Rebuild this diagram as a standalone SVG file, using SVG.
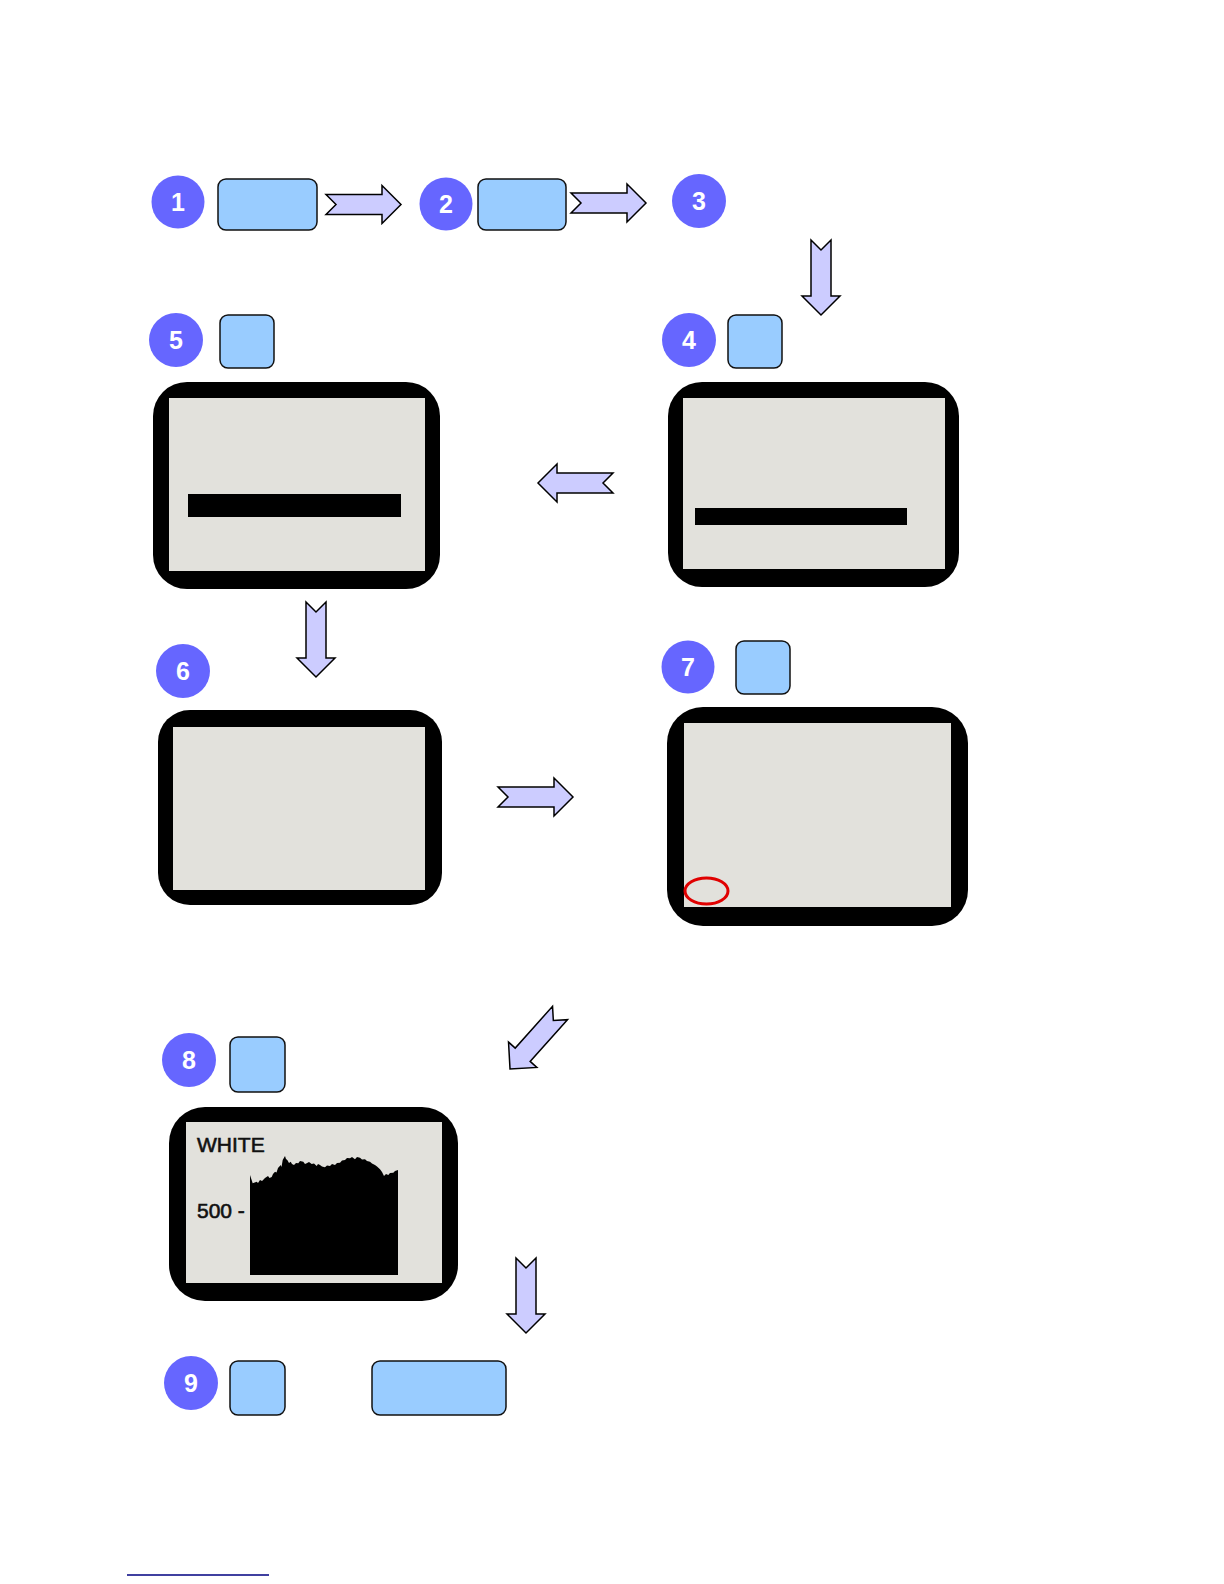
<svg xmlns="http://www.w3.org/2000/svg" width="1224" height="1584" viewBox="0 0 1224 1584">
<style>
.num{fill:#6666ff}
.numt{fill:#fff;font-family:"Liberation Sans",Arial,sans-serif;font-weight:bold;font-size:25px;text-anchor:middle}
.btn{fill:#99ccff;stroke:#111;stroke-width:1.5}
.frame{fill:#000}
.lcd{fill:#e2e1dc}
.bar{fill:#000}
.arrow{fill:#ccccff;stroke:#000;stroke-width:1.5;stroke-linejoin:miter}
.lbl{fill:#111;stroke:#111;stroke-width:0.6;font-family:"Liberation Sans",Arial,sans-serif;font-size:21px}
</style>
<defs>
<path id="arr" d="M0,-10 L56,-10 L56,-19 L75,0 L56,19 L56,10 L0,10 L10,0 Z"/>
</defs>
<rect width="1224" height="1584" fill="#fff"/>

<g id="step1">
<circle class="num" cx="178" cy="202" r="26.5"/>
<text class="numt" x="178" y="211">1</text>
<rect class="btn" x="218" y="179" width="99" height="51" rx="8"/>
</g>
<g id="step2">
<circle class="num" cx="446" cy="204" r="26.5"/>
<text class="numt" x="446" y="213">2</text>
<rect class="btn" x="478" y="179" width="88" height="51" rx="8"/>
</g>
<g id="step3">
<circle class="num" cx="699" cy="201" r="27"/>
<text class="numt" x="699" y="210">3</text>
</g>
<g id="step4">
<circle class="num" cx="689" cy="340" r="27"/>
<text class="numt" x="689" y="349">4</text>
<rect class="btn" x="728" y="315" width="54" height="53" rx="8"/>
<rect class="frame" x="668" y="382" width="291" height="205" rx="34"/>
<rect class="lcd" x="683" y="398" width="262" height="171"/>
<rect class="bar" x="695" y="508" width="212" height="17"/>
</g>
<g id="step5">
<circle class="num" cx="176" cy="340" r="27"/>
<text class="numt" x="176" y="349">5</text>
<rect class="btn" x="220" y="315" width="54" height="53" rx="8"/>
<rect class="frame" x="153" y="382" width="287" height="207" rx="34"/>
<rect class="lcd" x="169" y="398" width="256" height="173"/>
<rect class="bar" x="188" y="494" width="213" height="23"/>
</g>
<g id="step6">
<circle class="num" cx="183" cy="671" r="27"/>
<text class="numt" x="183" y="680">6</text>
<rect class="frame" x="158" y="710" width="284" height="195" rx="32"/>
<rect class="lcd" x="173" y="727" width="252" height="163"/>
</g>
<g id="step7">
<circle class="num" cx="688" cy="667" r="26.5"/>
<text class="numt" x="688" y="676">7</text>
<rect class="btn" x="736" y="641" width="54" height="53" rx="8"/>
<rect class="frame" x="667" y="707" width="301" height="219" rx="36"/>
<rect class="lcd" x="684" y="723" width="267" height="184"/>
<ellipse cx="706.5" cy="891" rx="21.5" ry="13" fill="none" stroke="#e00000" stroke-width="3"/>
</g>
<g id="step8">
<circle class="num" cx="189" cy="1060" r="27"/>
<text class="numt" x="189" y="1069">8</text>
<rect class="btn" x="230" y="1037" width="55" height="55" rx="8"/>
<rect class="frame" x="169" y="1107" width="289" height="194" rx="36"/>
<rect class="lcd" x="186" y="1122" width="256" height="161"/>
<text class="lbl" x="197" y="1152">WHITE</text>
<text class="lbl" x="197" y="1218">500 -</text>
<path fill="#000" d="M250,1275 L250,1175 L252.7,1183.3 L256.7,1181.7 L258,1183 L260,1180 L262,1181 L265,1178 L268,1176 L269.5,1178 L271.7,1177 L273,1174 L275,1171.7 L276.5,1172.5 L278,1168 L280.7,1165 L281.5,1167 L282.7,1160 L285,1156 L286,1159 L287.3,1160 L289,1163 L290.7,1161.7 L292,1164 L294,1165 L296,1163 L298.3,1163.3 L300,1161 L303.3,1161.7 L305,1164 L306.7,1163.3 L309,1162 L311.7,1164 L314,1163.5 L316.7,1166 L318,1164 L320,1165 L322,1166.5 L325,1167.3 L327,1165.5 L330,1166 L332,1164 L335,1165 L337,1163 L340,1162.7 L342,1160.5 L345,1160 L347,1158 L350,1158.3 L352,1157 L355,1159.3 L357,1157 L360,1157.7 L362,1159.5 L365,1159.3 L367,1161 L370,1161.7 L372,1163.5 L375,1165 L377,1166.5 L380,1169.3 L382,1172 L384,1176 L386,1174 L388.3,1175 L390,1173 L393.3,1172.7 L395,1171 L398,1170 L398,1275 Z"/>
</g>
<g id="step9">
<circle class="num" cx="191" cy="1383" r="27"/>
<text class="numt" x="191" y="1392">9</text>
<rect class="btn" x="230" y="1361" width="55" height="54" rx="8"/>
<rect class="btn" x="372" y="1361" width="134" height="54" rx="8"/>
</g>

<g id="connectors">
<use href="#arr" class="arrow" transform="translate(326,204.5)"/>
<use href="#arr" class="arrow" transform="translate(571,203)"/>
<use href="#arr" class="arrow" transform="translate(821,240) rotate(90)"/>
<use href="#arr" class="arrow" transform="translate(613,483) rotate(180)"/>
<use href="#arr" class="arrow" transform="translate(316,602) rotate(90)"/>
<use href="#arr" class="arrow" transform="translate(498,797)"/>
<use href="#arr" class="arrow" transform="translate(560,1013) rotate(131.8)"/>
<use href="#arr" class="arrow" transform="translate(526,1258) rotate(90)"/>
</g>

<line x1="127" y1="1575" x2="269" y2="1575" stroke="#000080" stroke-width="1.5"/>
</svg>
